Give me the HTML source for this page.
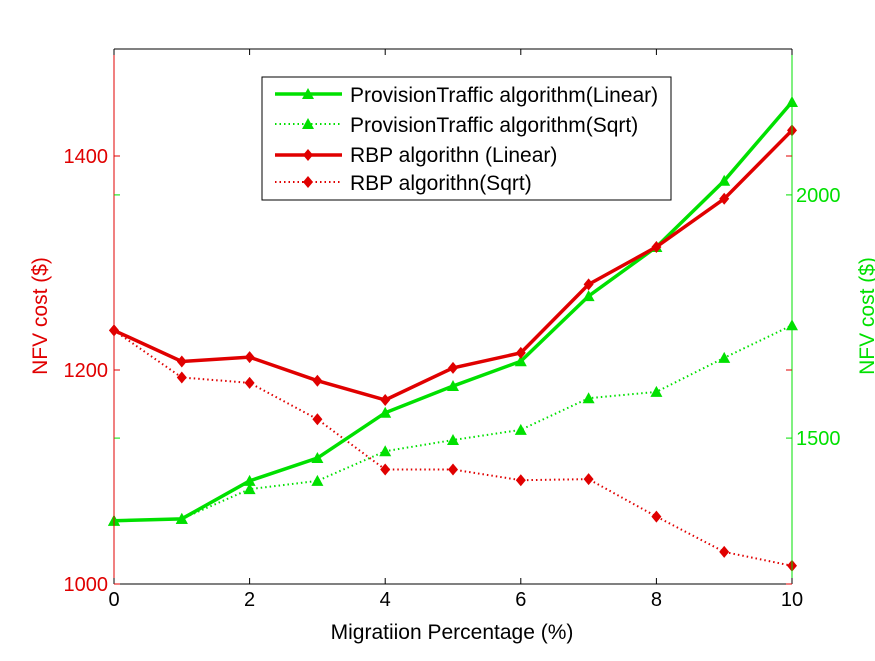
<!DOCTYPE html>
<html><head><meta charset="utf-8"><style>
body{margin:0;background:#fff;}
svg text{font-family:"Liberation Sans",Arial,sans-serif;}
</style></head><body>
<svg id="chart" width="875" height="656" xmlns="http://www.w3.org/2000/svg">
<rect width="875" height="656" fill="#fff"/>
<g id="marks"></g>
<g id="axes"></g>
</svg>
<script>
const xValues=[0,1,2,3,4,5,6,7,8,9,10];
const rbpLinear=[1237,1208,1212,1190,1172,1202,1216,1280,1315,1360,1424];
const rbpSqrt=[1237,1193,1188,1154,1107,1107,1097,1098,1063,1030,1017];
const ptLinear=[1330,1334,1412,1459,1552,1607,1658,1792,1893,2029,2191];
const ptSqrt=[1330,1334,1395,1412,1473,1496,1517,1582,1595,1665,1732];
const xTicks=[0,2,4,6,8,10];
const leftTicks=[1000,1200,1400];
const rightTicks=[1500,2000];
const L=114,R=792,T=49,B=584;
const NS="http://www.w3.org/2000/svg";
const xs=v=>L+(v-0)/10*(R-L);
const yl=v=>B-(v-1000)/500*(B-T);
const yr=v=>B-(v-1200)/1100*(B-T);
const marks=document.getElementById('marks'),axes=document.getElementById('axes');
function mk(tag,attrs,parent){const e=document.createElementNS(NS,tag);for(const k in attrs)e.setAttribute(k,attrs[k]);parent.appendChild(e);return e;}
function series(vals,ys,color,dash,marker,name){
  const pts=vals.map((v,i)=>xs(xValues[i])+','+ys(v)).join(' ');
  const pl=mk('polyline',{points:pts,fill:'none',stroke:color,'stroke-width':dash?2:3.5,'stroke-dasharray':dash?'1.5 3':'none'},marks);
  
  
  vals.forEach((v,i)=>{const x=xs(xValues[i]),y=ys(v);let m;
    if(marker==='tri')m=mk('polygon',{points:`${x},${y-6} ${x-6},${y+5} ${x+6},${y+5}`,fill:color},marks);
    else m=mk('polygon',{points:`${x},${y-6} ${x+5},${y} ${x},${y+6} ${x-5},${y}`,fill:color},marks);
    
    });
}
series(ptSqrt,yr,'#00e000',true,'tri','provision-sqrt');
series(rbpSqrt,yl,'#e00000',true,'dia','rbp-sqrt');
series(ptLinear,yr,'#00e000',false,'tri','provision-linear');
series(rbpLinear,yl,'#e00000',false,'dia','rbp-linear');
mk('line',{x1:L,y1:T,x2:R,y2:T,stroke:'#000'},axes);
mk('line',{x1:L,y1:B,x2:R,y2:B,stroke:'#000'},axes);
mk('line',{x1:L,y1:T,x2:L,y2:B,stroke:'#e00000'},axes);
mk('line',{x1:R,y1:T,x2:R,y2:B,stroke:'#00e000'},axes);
xTicks.forEach(v=>{const x=xs(v);
  mk('line',{x1:x,y1:B,x2:x,y2:B-6,stroke:'#000'},axes);
  mk('line',{x1:x,y1:T,x2:x,y2:T+6,stroke:'#000'},axes);
  const t=mk('text',{x:x,y:B+22,'text-anchor':'middle','font-size':20},axes);t.textContent=v;
  
  });
leftTicks.forEach(v=>{const y=yl(v);
  mk('line',{x1:L,y1:y,x2:L+6,y2:y,stroke:'#e00000'},axes);
  mk('line',{x1:R,y1:y,x2:R-6,y2:y,stroke:'#e00000'},axes);
  const t=mk('text',{x:L-6,y:y+7,'text-anchor':'end','font-size':20,fill:'#e00000'},axes);t.textContent=v;
  
  });
rightTicks.forEach(v=>{const y=yr(v);
  mk('line',{x1:R,y1:y,x2:R-6,y2:y,stroke:'#00e000'},axes);
  mk('line',{x1:L,y1:y,x2:L+6,y2:y,stroke:'#00e000'},axes);
  const t=mk('text',{x:R+4,y:y+7,'font-size':20,fill:'#00e000'},axes);t.textContent=v;
  
  });
</script>
<svg width="875" height="656" style="position:absolute;left:0;top:0" xmlns="http://www.w3.org/2000/svg">
<text x="452" y="639" text-anchor="middle" font-size="21">Migratiion Percentage (%)</text>
<text transform="translate(47,316) rotate(-90)" text-anchor="middle" font-size="21" fill="#e00000">NFV cost ($)</text>
<text transform="translate(874,316) rotate(-90)" text-anchor="middle" font-size="21" fill="#00e000">NFV cost ($)</text>
<g>
<rect x="262" y="77" width="409" height="123" fill="#fff" stroke="#000"/>
<line x1="275" y1="94" x2="342" y2="94" stroke="#00e000" stroke-width="3.5"/>
<polygon points="308,88 302,99 314,99" fill="#00e000"/>
<text x="350" y="102" font-size="21">ProvisionTraffic algorithm(Linear)</text>
<line x1="275" y1="124" x2="342" y2="124" stroke="#00e000" stroke-width="2" stroke-dasharray="1.5 3"/>
<polygon points="308,118 302,129 314,129" fill="#00e000"/>
<text x="350" y="132" font-size="21">ProvisionTraffic algorithm(Sqrt)</text>
<line x1="275" y1="155" x2="342" y2="155" stroke="#e00000" stroke-width="3.5"/>
<polygon points="308,149 313,155 308,161 303,155" fill="#e00000"/>
<text x="350" y="162" font-size="21">RBP algorithn (Linear)</text>
<line x1="275" y1="182" x2="342" y2="182" stroke="#e00000" stroke-width="2" stroke-dasharray="1.5 3"/>
<polygon points="308,176 313,182 308,188 303,182" fill="#e00000"/>
<text x="350" y="190" font-size="21">RBP algorithn(Sqrt)</text>
</g>
</svg>
</body></html>
